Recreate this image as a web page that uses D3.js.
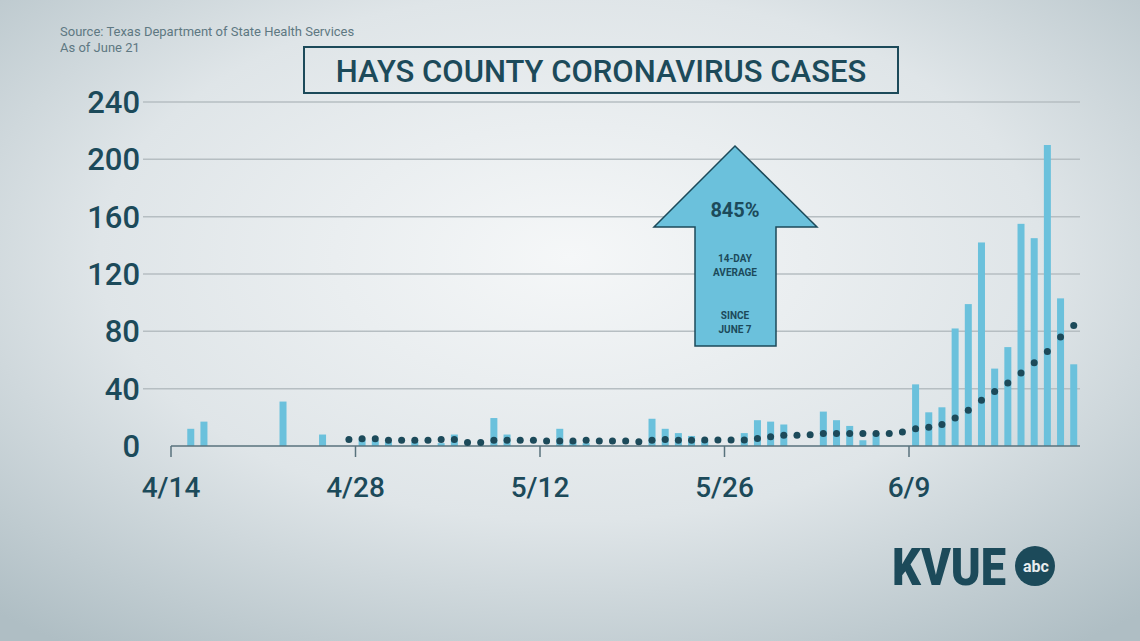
<!DOCTYPE html>
<html>
<head>
<meta charset="utf-8">
<script src="https://cdn.jsdelivr.net/npm/d3@7"></script>
<style>
  body { margin: 0; overflow: hidden; }
  text { font-family: Roboto, "Open Sans", sans-serif; }
</style>
</head>
<body>
<svg id="chart" width="1140" height="641"></svg>
<script>
// daily cases, 4/14 through 6/21
const startDate = new Date(2020, 3, 14);
const cases = [
  0, 12, 17, 0, 0, 0, 0, 0, 31, 0, 0, 8, 0, 0, 5, 4, 3, 0, 3, 0,
  2, 8, 0, 0, 19.5, 8, 0, 0, 0, 12, 3, 2, 0, 0, 0, 0, 19, 12, 9, 7,
  4, 0, 0, 9, 18, 17, 15, 0, 0, 24, 18, 14, 4, 9, 0, 0, 43, 23.5, 27, 82,
  99, 142, 54, 69, 155, 145, 210, 103, 57
];
// 14-day average, starting 4/27 (index 13)
const avgStart = 13;
const average = [
  4.5, 5, 5, 4, 4, 4, 4, 4.5, 4.5, 2.5, 2.5, 4, 4, 4, 4, 3.5, 3.5, 3.5, 4, 3.5, 3.5, 3.5, 3,
  4, 4.5, 4, 4, 4.2, 4.2, 4.2, 4.2, 5.3, 6.5, 7.5, 7.5, 7.8, 8.8, 8.8, 8.8, 8.8, 8.8, 8.8, 9.8,
  12, 13, 15, 19.5, 25, 32, 38, 44, 51, 58, 66, 76, 84
];
const yTicks = [0, 40, 80, 120, 160, 200, 240];
const xTickLabels = ["4/14", "4/28", "5/12", "5/26", "6/9"];

const dark = "#1c4a5a";
const barColor = "#6bc1dc";

const day = i => d3.timeDay.offset(startDate, i);

const svg = d3.select("#chart");

// background
const grad = svg.append("defs").append("radialGradient")
  .attr("id", "bg").attr("cx", "50%").attr("cy", "40%").attr("r", "75%");
grad.append("stop").attr("offset", "0%").attr("stop-color", "#f5f7f8");
grad.append("stop").attr("offset", "55%").attr("stop-color", "#dfe5e8");
grad.append("stop").attr("offset", "100%").attr("stop-color", "#afbec4");
svg.append("rect").attr("width", 1140).attr("height", 641).attr("fill", "url(#bg)");

const x = d3.scaleTime().domain([startDate, day(14)]).range([171, 355.5]);
const y = d3.scaleLinear().domain([0, 240]).range([446, 102]);
const dayW = x(day(1)) - x(day(0));

// gridlines + y labels
svg.append("g").selectAll("line").data(yTicks.filter(d => d > 0)).join("line")
  .attr("x1", 143).attr("x2", 1080)
  .attr("y1", d => y(d)).attr("y2", d => y(d))
  .attr("stroke", "#b6bec2").attr("stroke-width", 1.5);

svg.append("g").selectAll("text").data(yTicks).join("text")
  .attr("x", 140).attr("y", d => y(d) + 11)
  .attr("text-anchor", "end")
  .attr("font-size", 31).attr("font-weight", 500).attr("fill", dark)
  .text(d => d);

// bars
svg.append("g").selectAll("rect").data(cases).join("rect")
  .attr("x", (d, i) => x(day(i)) + dayW / 2 - 3.5)
  .attr("width", 7)
  .attr("y", d => y(d))
  .attr("height", d => y(0) - y(d))
  .attr("fill", barColor);

// x axis
svg.append("line").attr("x1", 171).attr("x2", 1080)
  .attr("y1", y(0)).attr("y2", y(0))
  .attr("stroke", "#58727c").attr("stroke-width", 1.5);

const xt = svg.append("g").selectAll("g").data(xTickLabels).join("g")
  .attr("transform", (d, i) => `translate(${x(day(i * 14))},${y(0)})`);
xt.append("line").attr("y2", 11).attr("stroke", "#58727c").attr("stroke-width", 1.5);
xt.append("text").attr("y", 51).attr("text-anchor", "middle")
  .attr("font-size", 28).attr("font-weight", 500).attr("fill", dark).text(d => d);

// average dots
svg.append("g").selectAll("circle").data(average).join("circle")
  .attr("cx", (d, i) => x(day(i + avgStart)) + dayW / 2)
  .attr("cy", d => y(d))
  .attr("r", 3.5)
  .attr("fill", dark);

// source
svg.append("text").attr("x", 60).attr("y", 36).attr("font-size", 13).attr("fill", "#5e7882")
  .text("Source: Texas Department of State Health Services");
svg.append("text").attr("x", 60).attr("y", 52).attr("font-size", 13).attr("fill", "#5e7882")
  .text("As of June 21");

// title
svg.append("rect").attr("x", 304).attr("y", 47).attr("width", 594).attr("height", 46)
  .attr("fill", "none").attr("stroke", dark).attr("stroke-width", 2);
svg.append("text").attr("x", 601).attr("y", 82).attr("text-anchor", "middle")
  .attr("font-size", 31).attr("font-weight", 500).attr("fill", dark).text("HAYS COUNTY CORONAVIRUS CASES");

// arrow
const arrow = svg.append("g");
arrow.append("path")
  .attr("d", "M735,146 L817,227 L776,227 L776,346 L695,346 L695,227 L654,227 Z")
  .attr("fill", barColor).attr("stroke", dark).attr("stroke-width", 1.5);
arrow.append("text").attr("x", 735).attr("y", 217).attr("text-anchor", "middle")
  .attr("font-size", 20).attr("font-weight", "bold").attr("fill", dark).text("845%");
[["14-DAY", 262], ["AVERAGE", 276], ["SINCE", 319], ["JUNE 7", 333]].forEach(([t, ty]) => {
  arrow.append("text").attr("x", 735).attr("y", ty).attr("text-anchor", "middle")
    .attr("font-size", 10).attr("font-weight", "bold").attr("fill", dark).text(t);
});

// logo
svg.append("text").attr("x", 892).attr("y", 585).attr("font-size", 52)
  .attr("font-weight", "900").attr("fill", dark).attr("textLength", 114)
  .attr("lengthAdjust", "spacingAndGlyphs").text("KVUE");
svg.append("circle").attr("cx", 1035).attr("cy", 566).attr("r", 20).attr("fill", dark);
svg.append("text").attr("x", 1036).attr("y", 572).attr("text-anchor", "middle")
  .attr("font-size", 16).attr("font-weight", "bold").attr("fill", "#e6ecee").text("abc");
</script>
</body>
</html>
